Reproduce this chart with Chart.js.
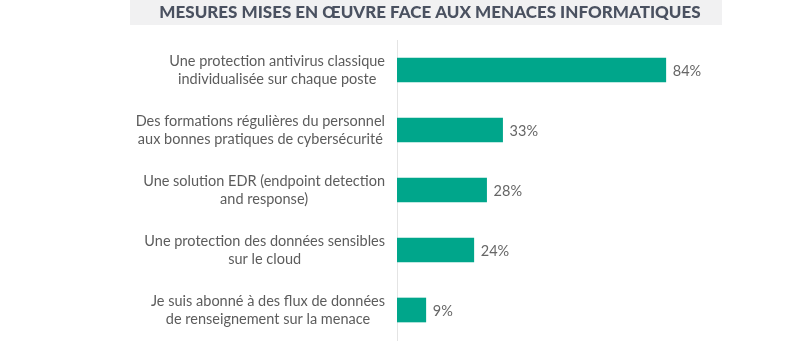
<!DOCTYPE html>
<html>
<head>
<meta charset="utf-8">
<script src="https://cdn.jsdelivr.net/npm/chart.js@4"></script>
<style>
  html, body { margin: 0; padding: 0; background: #fff; }
  #wrap { width: 800px; height: 350px; }
</style>
</head>
<body>
<div id="wrap"><canvas id="mesuresChart"></canvas></div>
<script>
const titre = 'MESURES MISES EN ŒUVRE FACE AUX MENACES INFORMATIQUES';

const mesures = [
    ['Une protection antivirus classique', 'individualisée sur chaque poste'],
    ['Des formations régulières du personnel', 'aux bonnes pratiques de cybersécurité'],
    ['Une solution EDR (endpoint detection', 'and response)'],
    ['Une protection des données sensibles', 'sur le cloud'],
    ['Je suis abonné à des flux de données', 'de renseignement sur la menace']
];

const pourcentages = [84, 33, 28, 24, 9];

// bandeau gris + titre
const bandeauTitre = {
    id: 'bandeauTitre',
    beforeDraw(chart) {
        const ctx = chart.ctx;
        ctx.save();
        ctx.fillStyle = '#f1f1f2';
        ctx.fillRect(130, 0, 592, 25);
        ctx.font = '900 17px Lato';
        ctx.fillStyle = '#4a5160';
        ctx.textAlign = 'center';
        ctx.textBaseline = 'middle';
        ctx.fillText(titre, 430, 12.5);
        ctx.restore();
    }
};

// libellés à gauche : bloc aligné à droite, lignes centrées
const libelles = {
    id: 'libelles',
    afterDraw(chart) {
        const ctx = chart.ctx;
        const y = chart.scales.y;
        ctx.save();
        ctx.font = '14.5px Lato';
        ctx.fillStyle = '#5c5c5c';
        ctx.textAlign = 'center';
        ctx.textBaseline = 'middle';
        mesures.forEach((lignes, i) => {
            const w = Math.max(...lignes.map(l => ctx.measureText(l).width));
            const cx = 385 - w / 2;
            const cy = y.getPixelForValue(i);
            lignes.forEach((l, j) => {
                ctx.fillText(l, cx, cy + (j - (lignes.length - 1) / 2) * 18);
            });
        });
        ctx.restore();
    }
};

// valeurs au bout des barres
const valeurs = {
    id: 'valeurs',
    afterDatasetsDraw(chart) {
        const ctx = chart.ctx;
        ctx.save();
        ctx.font = '14.5px Lato';
        ctx.fillStyle = '#666';
        ctx.textBaseline = 'middle';
        chart.getDatasetMeta(0).data.forEach((bar, i) => {
            ctx.fillText(pourcentages[i] + '%', bar.x + 7, bar.y + 1);
        });
        ctx.restore();
    }
};

window.addEventListener('load', () => {
    new Chart(document.getElementById('mesuresChart'), {
        type: 'bar',
        data: {
            labels: mesures,
            datasets: [{
                data: pourcentages,
                backgroundColor: '#00a68b',
                barThickness: 24
            }]
        },
        options: {
            indexAxis: 'y',
            responsive: true,
            maintainAspectRatio: false,
            animation: false,
            layout: { padding: { left: 389, right: 83, top: 40, bottom: 10 } },
            scales: {
                x: { display: false, min: 0, max: 100 },
                y: {
                    grid: { display: false },
                    border: { display: true, color: '#e4e4e4' },
                    ticks: { display: false }
                }
            },
            plugins: {
                legend: { display: false },
                tooltip: { enabled: false },
                title: { display: false }
            }
        },
        plugins: [bandeauTitre, libelles, valeurs]
    });
});
</script>
</body>
</html>
